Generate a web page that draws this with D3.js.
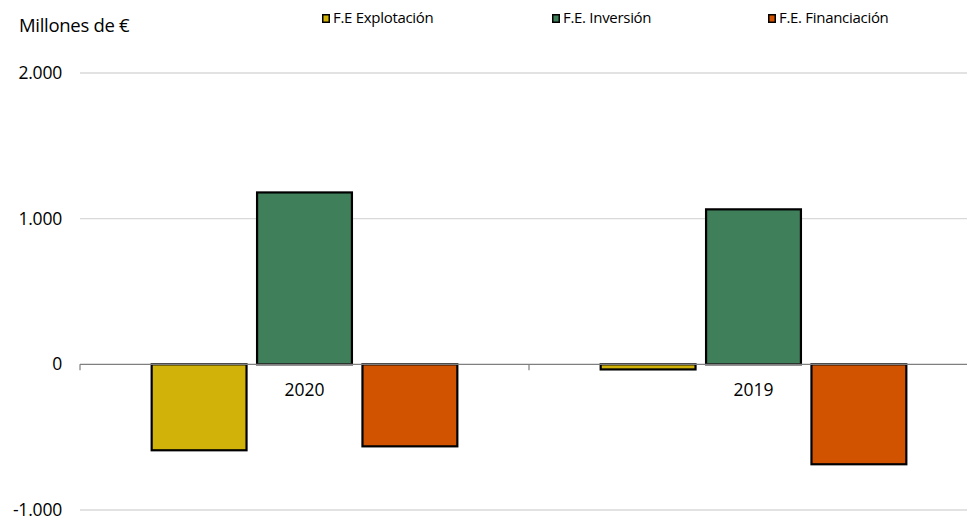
<!DOCTYPE html>
<html>
<head>
<meta charset="utf-8">
<script src="https://cdn.jsdelivr.net/npm/d3@7"></script>
<style>
  body { margin: 0; background: #fff; }
  text { font-family: "Open Sans", "Noto Sans", sans-serif; fill: #000; }
</style>
</head>
<body>
<script>
// data (millones de €)
var years = ["2020", "2019"];
var seriesNames = ["F.E Explotación", "F.E. Inversión", "F.E. Financiación"];
var explotacion = [-590, -35];
var inversion = [1180, 1064];
var financiacion = [-563, -686];
var yTicks = [-1000, 0, 1000, 2000];

var colors = ["#d1b208", "#3f7f5a", "#d15300"];
var series = [explotacion, inversion, financiacion];

var width = 967, height = 522;
var plotLeft = 80, plotRight = 978, plotTop = 73, plotBottom = 510;

var svg = d3.select("body").append("svg")
	.attr("width", width)
	.attr("height", height);

var es = d3.formatLocale({decimal: ",", thousands: ".", grouping: [3], currency: ["", "€"], minus: "-"});
var fmt = es.format(",d");

var y = d3.scaleLinear().domain([-1000, 2000]).range([plotBottom, plotTop]);
var x0 = d3.scaleBand().domain(years).range([plotLeft, plotRight]);
var x1 = d3.scaleBand().domain(d3.range(3)).range([0, x0.bandwidth()])
	.paddingInner(0.1).paddingOuter(0.68);

// gridlines
svg.selectAll(".grid")
	.data(yTicks.filter(function (d) { return d !== 0; }))
	.enter().append("line")
		.attr("x1", plotLeft).attr("x2", plotRight)
		.attr("y1", function (d) { return y(d); })
		.attr("y2", function (d) { return y(d); })
		.style("stroke", "#d9d9d9")
		.style("stroke-width", 1.3);

// y tick labels
svg.selectAll(".ylab")
	.data(yTicks)
	.enter().append("text")
		.attr("x", 62)
		.attr("y", function (d) { return y(d); })
		.attr("dy", "0.35em")
		.attr("text-anchor", "end")
		.style("font-size", "17.5px")
		.style("letter-spacing", "-0.2px")
		.text(function (d) { return fmt(d); });

// bars
years.forEach(function (yr, yi) {
	series.forEach(function (s, si) {
		var v = s[yi];
		svg.append("rect")
			.attr("x", x0(yr) + x1(si))
			.attr("width", x1.bandwidth())
			.attr("y", y(Math.max(0, v)))
			.attr("height", Math.abs(y(v) - y(0)))
			.style("fill", colors[si])
			.style("stroke", "#000")
			.style("stroke-width", 2.2);
	});
});

// zero axis with category ticks
svg.append("line")
	.attr("x1", plotLeft).attr("x2", plotRight)
	.attr("y1", y(0)).attr("y2", y(0))
	.style("stroke", "#7f7f7f")
	.style("stroke-width", 1.2);
svg.selectAll(".xtick")
	.data([plotLeft].concat(years.map(function (d) { return x0(d) + x0.bandwidth(); })))
	.enter().append("line")
		.attr("x1", function (d) { return d; }).attr("x2", function (d) { return d; })
		.attr("y1", y(0)).attr("y2", y(0) + 6)
		.style("stroke", "#7f7f7f")
		.style("stroke-width", 1.2);

// category labels
svg.selectAll(".xlab")
	.data(years)
	.enter().append("text")
		.attr("x", function (d) { return x0(d) + x0.bandwidth() / 2; })
		.attr("y", y(0) + 32)
		.attr("text-anchor", "middle")
		.style("font-size", "17.5px")
		.text(function (d) { return d; });

// unit label
svg.append("text")
	.attr("x", 19).attr("y", 32)
	.style("font-size", "18.5px")
	.style("letter-spacing", "-0.3px")
	.text("Millones de €");

// legend
var legendX = [322, 552, 768];
seriesNames.forEach(function (name, i) {
	var g = svg.append("g").attr("transform", "translate(" + legendX[i] + ",14)");
	g.append("rect")
		.attr("x", 0.75).attr("y", 0.75)
		.attr("width", 6.5).attr("height", 7.5)
		.style("fill", colors[i])
		.style("stroke", "#000")
		.style("stroke-width", 1.5);
	g.append("text")
		.attr("x", 11).attr("y", 9)
		.style("font-size", "15px")
		.style("letter-spacing", "-0.3px")
		.text(name);
});
</script>
</body>
</html>
